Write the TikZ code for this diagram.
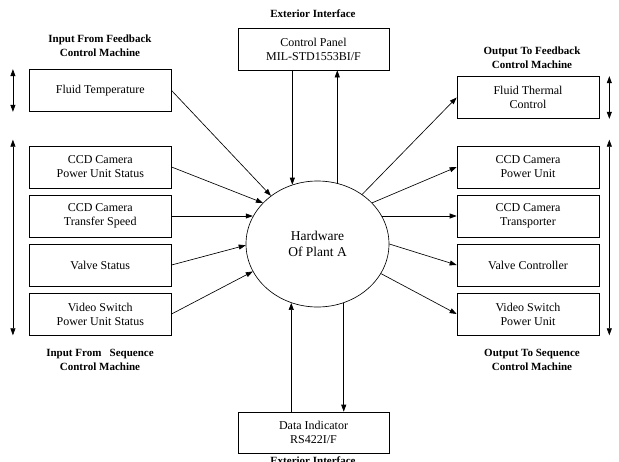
\documentclass[tikz,border=0pt]{standalone}
\usepackage{fontspec}
\setmainfont{Liberation Serif}
\usetikzlibrary{shapes.geometric,arrows.meta}
\begin{document}
\begin{tikzpicture}[x=1pt,y=-1pt,
  box/.style={draw,line width=0.65pt,minimum width=142pt,minimum height=42pt,align=center,font=\fontsize{12}{14}\selectfont,inner sep=0pt},
  lbl/.style={align=center,font=\fontsize{11}{14}\selectfont\bfseries,inner sep=0pt},
  arr/.style={-{Triangle[length=7pt,width=5pt]},line width=0.65pt},
  dbl/.style={{Triangle[length=7pt,width=5pt]}-{Triangle[length=7pt,width=5pt]},line width=0.65pt}]
\useasboundingbox (0,0) rectangle (619,461);
% central
\node[ellipse,draw,line width=0.65pt,minimum width=143pt,minimum height=126pt,inner sep=0pt,align=center,font=\fontsize{13.5}{16}\selectfont] (hw) at (317.5,244) {Hardware\\Of Plant A};
% left boxes
\node[box] (ft)  at (100.25,90.5) {Fluid Temperature};
\node[box] (cps) at (100.25,167) {CCD Camera\\Power Unit Status};
\node[box] (cts) at (100.25,216) {CCD Camera\\Transfer Speed};
\node[box] (vs)  at (100.25,265) {Valve Status};
\node[box] (vss) at (100.25,314) {Video Switch\\Power Unit Status};
% right boxes
\node[box] (ftc) at (528,97.5) {Fluid Thermal\\Control};
\node[box] (cpu) at (528,167) {CCD Camera\\Power Unit};
\node[box] (ctr) at (528,216) {CCD Camera\\Transporter};
\node[box] (vc)  at (528,265) {Valve Controller};
\node[box] (vsp) at (528,314) {Video Switch\\Power Unit};
% top / bottom
\node[box,minimum width=151pt] (cp) at (313.5,49) {Control Panel\\MIL-STD1553BI/F};
\node[box,minimum width=151pt,minimum height=41pt] (di) at (313.5,432.5) {Data Indicator\\RS422I/F};
% labels
\node[lbl] (t1) at (313,14) {Exterior Interface};
\node[lbl] (t2) at (100,46) {Input From Feedback\\Control Machine};
\node[lbl] (t3) at (532,57.5) {Output To Feedback\\Control Machine};
\node[lbl] (t4) at (100,360) {Input From~~~Sequence\\Control Machine};
\node[lbl] (t5) at (532,360) {Output To Sequence\\Control Machine};
\node[lbl,anchor=base] (t6) at (313,464) {Exterior Interface};
% left arrows
\draw[arr] (ft.east) -- (hw.134.7);
\draw[arr] (cps.east) -- (hw.143.9);
\draw[arr] (cts.east) -- (cts.east -| hw.157);
\draw[arr] (vs.east) -- (hw.181.5);
\draw[arr] (vss.east) -- (hw.203.9);
% right arrows
\draw[arr] (hw.48.9) -- (ftc.west);
\draw[arr] (hw.37.1) -- (cpu.west);
\draw[arr] (ctr.west -| hw.23.6) -- (ctr.west);
\draw[arr] (hw.0) -- (vc.west);
\draw[arr] (hw.335.8) -- (vsp.west);
% vertical
\draw[arr] (cp.south -| hw.113.4) -- (hw.113.4);
\draw[arr] (hw.72.2) -- (hw.72.2 |- cp.south);
\draw[arr] (di.north -| hw.246.6) -- (hw.246.6);
\draw[arr] (hw.294.4) -- (hw.294.4 |- di.north);
% double arrows
\draw[dbl] ([xshift=-16pt]ft.north west) -- ([xshift=-16pt]ft.south west);
\draw[dbl] ([xshift=-16pt,yshift=6pt]cps.north west) -- ([xshift=-16pt]vss.south west);
\draw[dbl] ([xshift=10pt]ftc.north east) -- ([xshift=10pt]ftc.south east);
\draw[dbl] ([xshift=10pt,yshift=6pt]cpu.north east) -- ([xshift=10pt]vsp.south east);
\end{tikzpicture}
\end{document}
